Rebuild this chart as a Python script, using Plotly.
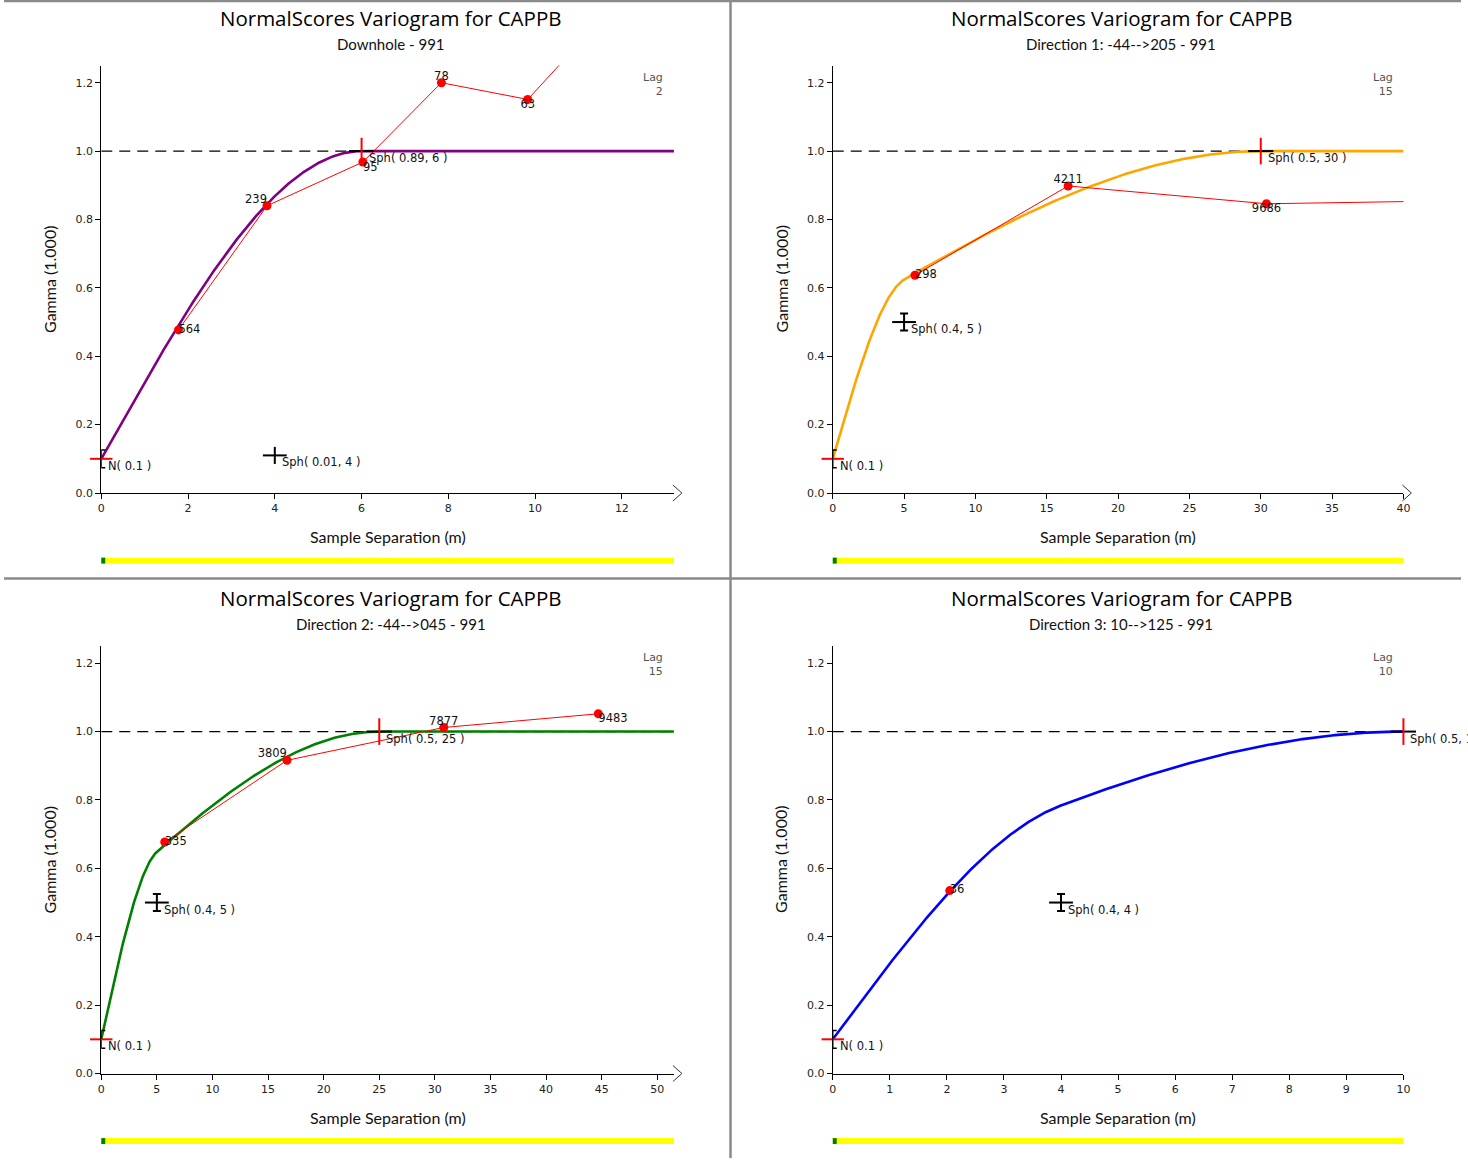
import numpy as np
import plotly.graph_objects as go

W, H = 1468, 1165

# ---------------- data ----------------
title_text = "NormalScores Variogram for CAPPB"
subtitles = ["Downhole - 991", "Direction 1: -44-->205 - 991",
             "Direction 2: -44-->045 - 991", "Direction 3: 10-->125 - 991"]
lag_sizes = [2, 15, 15, 10]
x_max = [13.2, 40.0, 51.5, 10.0]
x_dtick = [2, 5, 5, 1]

# variogram model parameters (nugget + two spherical structures)
nugget = [0.1, 0.1, 0.1, 0.1]
sph1_sill = [0.01, 0.4, 0.4, 0.4]
sph1_range = [4, 5, 5, 4]
sph2_sill = [0.89, 0.5, 0.5, 0.5]
sph2_range = [6, 30, 25, 10]
model_colors = ["#800080", "#FFA500", "#008000", "#0000FF"]
sph1_caps = [0, 4, 4, 4]

# experimental variogram points (lag distance, gamma, pair counts)
exp_lag = [
    [1.78, 3.82, 6.03, 7.84, 9.83, 11.85],
    [5.76, 16.5, 30.4, 44.3],
    [5.71, 16.7, 30.8, 44.7],
    [2.05],
]
exp_gamma = [
    [0.477, 0.840, 0.968, 1.200, 1.151, 1.43],
    [0.637, 0.898, 0.846, 0.855],
    [0.677, 0.916, 1.012, 1.052],
    [0.535],
]
exp_pairs = [
    ["564", "239", "95", "78", "63", ""],
    ["298", "4211", "9686", ""],
    ["335", "3809", "7877", "9483"],
    ["36"],
]
exp_textpos = [
    ["middle right", "top left", "bottom right", "top center", "bottom center", "top center"],
    ["middle right", "top center", "bottom center", "top center"],
    ["middle right", "top left", "top center", "bottom right"],
    ["middle right"],
]
show_arrow = [True, True, True, False]

y_ticks = [0.0, 0.2, 0.4, 0.6, 0.8, 1.0, 1.2]

# ---------------- layout geometry (pixels) ----------------
col_x0 = [98, 835]
col_x1 = [675, 1410]
row_y0 = [496, 1080]
row_top = [66, 650]


def px(x):
    return x / W


def py(y):
    return 1 - y / H


def sph(h, c, a):
    r = np.minimum(h / a, 1.0)
    return c * (1.5 * r - 0.5 * r ** 3)


SMALL = "DejaVu Sans, Verdana, sans-serif"
TICK_FONT = dict(family=SMALL, size=11, color="#222")
LBL_FONT = dict(family=SMALL, size=11.5, color="#111")
CNT_FONT = dict(family=SMALL, size=11.5, color="#111")
TITLE_FONT = dict(family="Open Sans, Lato, sans-serif", size=20.5, color="#000")
SUB_FONT = dict(family="Lato, Open Sans, sans-serif", size=15, color="#111")
AX_FONT = dict(family="Lato, Open Sans, sans-serif", size=16, color="#111")

fig = go.Figure()
shapes = []
annotations = []
layout_axes = {}

for i in range(4):
    col, row = i % 2, i // 2
    sfx = "" if i == 0 else str(i + 1)
    xa, ya = "x" + sfx, "y" + sfx
    x0p, x1p = col_x0[col], col_x1[col]
    y0p, ytp = row_y0[row], row_top[row]

    layout_axes["xaxis" + sfx] = dict(
        domain=[px(x0p), px(x1p)], anchor=ya, range=[0, x_max[i]],
        dtick=x_dtick[i], tick0=0, showgrid=False, zeroline=False,
        showline=True, linecolor="black", linewidth=1,
        ticks="outside", ticklen=5, tickcolor="black", tickfont=TICK_FONT,
    )
    layout_axes["yaxis" + sfx] = dict(
        domain=[py(y0p), py(ytp)], anchor=xa, range=[0, 1.25],
        tickvals=y_ticks, tickformat=".1f", showgrid=False, zeroline=False,
        showline=True, linecolor="black", linewidth=1,
        ticks="outside", ticklen=5, tickcolor="black", tickfont=TICK_FONT,
    )

    total_sill = nugget[i] + sph1_sill[i] + sph2_sill[i]

    # model curve
    h = np.linspace(0, x_max[i], 600)
    g = nugget[i] + sph(h, sph1_sill[i], sph1_range[i]) + sph(h, sph2_sill[i], sph2_range[i])
    fig.add_trace(go.Scatter(x=h, y=g, mode="lines", xaxis=xa, yaxis=ya,
                             line=dict(color=model_colors[i], width=2.6),
                             hoverinfo="skip", showlegend=False))

    # experimental variogram (line + points, clipped)
    fig.add_trace(go.Scatter(x=exp_lag[i], y=exp_gamma[i], mode="lines+markers",
                             xaxis=xa, yaxis=ya,
                             line=dict(color="#FF0000", width=1),
                             marker=dict(color="#FF0000", size=9),
                             showlegend=False))
    # pair counts (not clipped)
    fig.add_trace(go.Scatter(x=exp_lag[i], y=exp_gamma[i], mode="text",
                             xaxis=xa, yaxis=ya, text=exp_pairs[i],
                             textposition=exp_textpos[i], textfont=CNT_FONT,
                             cliponaxis=False, hoverinfo="skip", showlegend=False))

    # sill dashed line
    shapes.append(dict(type="line", xref=xa, yref=ya, x0=0, x1=x_max[i],
                       y0=total_sill, y1=total_sill, layer="below",
                       line=dict(color="black", width=1.2, dash="11px,7px")))

    # nugget marker: red horizontal + black capped vertical
    fig.add_trace(go.Scatter(x=[0], y=[nugget[i]], mode="markers", xaxis=xa, yaxis=ya,
                             marker=dict(symbol="line-ew", size=16,
                                         line=dict(color="#FF0000", width=2)),
                             error_y=dict(type="data", array=[0.026], color="black",
                                          thickness=1.5, width=4),
                             cliponaxis=False, hoverinfo="skip", showlegend=False))
    # first spherical structure marker
    fig.add_trace(go.Scatter(x=[sph1_range[i]], y=[nugget[i] + sph1_sill[i]], mode="markers",
                             xaxis=xa, yaxis=ya,
                             marker=dict(symbol="line-ew", size=17,
                                         line=dict(color="black", width=2)),
                             error_y=dict(type="data", array=[0.025], color="black",
                                          thickness=2, width=sph1_caps[i]),
                             cliponaxis=False, hoverinfo="skip", showlegend=False))
    # second spherical structure (range) marker
    fig.add_trace(go.Scatter(x=[sph2_range[i]], y=[total_sill], mode="markers",
                             xaxis=xa, yaxis=ya,
                             marker=dict(symbol="line-ew", size=18,
                                         line=dict(color="black", width=2)),
                             cliponaxis=False, hoverinfo="skip", showlegend=False))
    fig.add_trace(go.Scatter(x=[sph2_range[i]], y=[total_sill], mode="markers",
                             xaxis=xa, yaxis=ya,
                             marker=dict(symbol="line-ns", size=19,
                                         line=dict(color="#FF0000", width=2)),
                             cliponaxis=False, hoverinfo="skip", showlegend=False))

    # structure labels
    labels = [
        (0, nugget[i], "N( %g )" % nugget[i]),
        (sph1_range[i], nugget[i] + sph1_sill[i], "Sph( %g, %g )" % (sph1_sill[i], sph1_range[i])),
        (sph2_range[i], total_sill, "Sph( %g, %g )" % (sph2_sill[i], sph2_range[i])),
    ]
    for lx, ly, lt in labels:
        annotations.append(dict(x=lx, y=ly, xref=xa, yref=ya, text=lt, showarrow=False,
                                xanchor="left", yanchor="middle", xshift=5, yshift=-7,
                                font=LBL_FONT))

    # lag text
    annotations.append(dict(x=px(x1p - 9), y=py(ytp + 3), xref="paper", yref="paper",
                            text="Lag<br>%d" % lag_sizes[i], showarrow=False,
                            xanchor="right", yanchor="top", align="right",
                            font=dict(family=SMALL, size=11, color="#555")))

    # titles
    cx = (col_x0[col] + col_x1[col]) / 2
    tcx = cx + 3
    annotations.append(dict(x=px(tcx), y=py(18 + row * 584), xref="paper", yref="paper",
                            text=title_text, showarrow=False, xanchor="center",
                            yanchor="middle", font=TITLE_FONT))
    annotations.append(dict(x=px(tcx), y=py(44 + row * 584), xref="paper", yref="paper",
                            text=subtitles[i], showarrow=False, xanchor="center",
                            yanchor="middle", font=SUB_FONT))
    # axis titles
    annotations.append(dict(x=px(cx), y=py(y0p + 44), xref="paper", yref="paper",
                            text="Sample Separation (m)", showarrow=False, xanchor="center",
                            yanchor="middle", font=AX_FONT))
    annotations.append(dict(x=px(x0p - 52), y=py((y0p + ytp) / 2), xref="paper", yref="paper",
                            text="Gamma (1.000)", showarrow=False, textangle=-90,
                            xanchor="center", yanchor="middle", font=AX_FONT))

    # arrow at end of x axis
    if show_arrow[i]:
        shapes.append(dict(type="line", xref="paper", yref="paper", x0=px(x1p - 1), x1=px(x1p + 8),
                           y0=py(y0p - 8), y1=py(y0p), line=dict(color="#333", width=1)))
        shapes.append(dict(type="line", xref="paper", yref="paper", x0=px(x1p - 1), x1=px(x1p + 8),
                           y0=py(y0p + 8), y1=py(y0p), line=dict(color="#333", width=1)))

    # yellow progress bar
    by = y0p + 68
    shapes.append(dict(type="rect", xref="paper", yref="paper", x0=px(x0p), x1=px(x1p),
                       y0=py(by - 3), y1=py(by + 3), fillcolor="#FFFF00", line=dict(width=0)))
    shapes.append(dict(type="rect", xref="paper", yref="paper", x0=px(x0p), x1=px(x0p + 4),
                       y0=py(by - 3), y1=py(by + 3), fillcolor="#008000", line=dict(width=0)))

# panel separators
sep = dict(color="#8a8a8a", width=2.5)
shapes.append(dict(type="line", xref="paper", yref="paper", x0=px(732), x1=px(732), y0=0, y1=1, line=sep))
shapes.append(dict(type="line", xref="paper", yref="paper", x0=0, x1=1, y0=py(582), y1=py(582), line=sep))
shapes.append(dict(type="line", xref="paper", yref="paper", x0=0, x1=1, y0=py(1), y1=py(1), line=sep))

fig.update_layout(
    width=W, height=H, margin=dict(l=0, r=0, t=0, b=0),
    paper_bgcolor="white", plot_bgcolor="white",
    showlegend=False, shapes=shapes, annotations=annotations,
    **layout_axes,
)

post = (
    "var de=document.documentElement, b=document.body;"
    "de.style.margin='0';de.style.padding='0';de.style.overflow='hidden';"
    "de.style.width='1468px';de.style.height='1165px';"
    "b.style.margin='0';b.style.padding='0';b.style.overflow='hidden';"
    "b.style.width='1468px';b.style.height='1165px';"
    "var d=document.getElementById('{plot_id}');d.style.display='block';d.style.overflow='hidden';"
    "if(d.parentElement){d.parentElement.style.width='1468px';d.parentElement.style.height='1165px';"
    "d.parentElement.style.overflow='hidden';}"
    "document.querySelectorAll('.main-svg').forEach(function(s){s.style.overflow='hidden';});"
)

fig.write_html("out.html", config={"displayModeBar": False}, post_script=post)
